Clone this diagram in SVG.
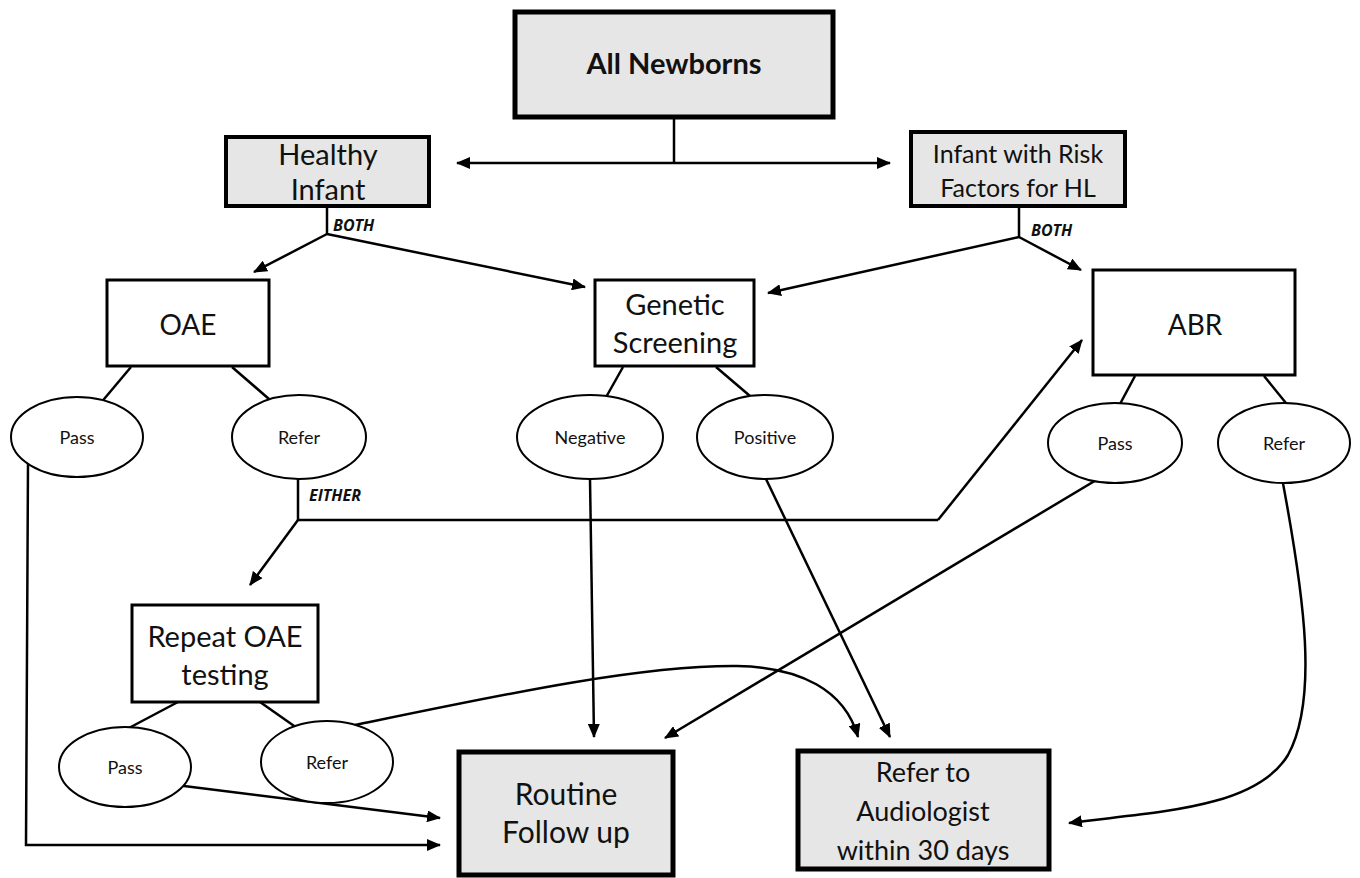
<svg xmlns="http://www.w3.org/2000/svg" width="1360" height="878" viewBox="0 0 1360 878">
<defs>
<marker id="ah" markerUnits="userSpaceOnUse" markerWidth="14" markerHeight="12" refX="13" refY="6" orient="auto">
<path d="M0,0 L14,6 L0,12 z" fill="#000"/>
</marker>
<style>
.t{font-family:Lato,"Open Sans","Liberation Sans",sans-serif;fill:#111;text-anchor:middle}
.big{fill:#e6e6e6;stroke:#000;stroke-width:5}
.mid{fill:#e6e6e6;stroke:#000;stroke-width:4}
.box{fill:#fff;stroke:#000;stroke-width:3}
.ell{fill:#fff;stroke:#000;stroke-width:2}
.c{fill:none;stroke:#000;stroke-width:2.5}
.a{fill:none;stroke:#000;stroke-width:2.5;marker-end:url(#ah)}
.lbl{font-family:"Open Sans","Liberation Sans",sans-serif;font-weight:bold;font-style:italic;font-size:16px;fill:#111}
</style>
</defs>
<rect width="1360" height="878" fill="#fff"/>
<g id="connectors">
<path class="c" d="M674,118 V163"/>
<path class="a" d="M674,163 H890"/>
<path class="a" d="M674,163 H457"/>
<path class="c" d="M327,207 V234"/>
<path class="a" d="M327,234 L254,272"/>
<path class="a" d="M327,234 L585,287"/>
<path class="c" d="M1019,207 V237"/>
<path class="a" d="M1019,237 L768,293"/>
<path class="a" d="M1019,237 L1081,270"/>
<path class="c" d="M131,367 L94,411"/>
<path class="c" d="M232,367 L269,399"/>
<path class="c" d="M623,367 L605,399"/>
<path class="c" d="M716,367 L750,396"/>
<path class="c" d="M1135,376 L1120,404"/>
<path class="c" d="M1264,376 L1290,408"/>
<path class="c" d="M178,702 L127,729"/>
<path class="c" d="M260,702 L297,728"/>
<path class="c" d="M298,479 V520 H938"/>
<path class="a" d="M938,520 L1082,340"/>
<path class="a" d="M298,520 L250,585"/>
<path class="a" d="M28,463 L26,845 H440"/>
<path class="a" d="M176,785 L440,818"/>
<path class="a" d="M590,479 L594,737"/>
<path class="a" d="M766,479 L890,737"/>
<path class="a" d="M1113,470 L665,738"/>
<path class="a" d="M355,725 C500,695 640,665 737,666 C800,667 845,690 858,737"/>
<path class="a" d="M1282,478 C1305,600 1318,700 1288,755 C1255,810 1150,812 1069,823"/>
<text class="lbl" x="333" y="231">BOTH</text>
<text class="lbl" x="1031" y="236">BOTH</text>
<text class="lbl" x="309" y="501">EITHER</text>
</g>
<g id="all-newborns">
<rect class="big" x="515" y="12" width="318" height="105"/>
<text class="t" x="674" y="74" font-size="29" font-weight="bold">All Newborns</text>
</g>
<g id="healthy-infant">
<rect class="mid" x="226" y="137" width="203" height="69"/>
<text class="t" x="328" y="165" font-size="29">Healthy</text>
<text class="t" x="328" y="200" font-size="29">Infant</text>
</g>
<g id="risk-infant">
<rect class="mid" x="911" y="132" width="214" height="74"/>
<text class="t" x="1018" y="163" font-size="25">Infant with Risk</text>
<text class="t" x="1018" y="197" font-size="25">Factors for HL</text>
</g>
<g id="oae">
<rect class="box" x="107" y="280" width="162" height="86"/>
<text class="t" x="188" y="335" font-size="28">OAE</text>
</g>
<g id="genetic">
<rect class="box" x="595" y="280" width="159" height="86"/>
<text class="t" x="675" y="315" font-size="29">Genetic</text>
<text class="t" x="675" y="353" font-size="29">Screening</text>
</g>
<g id="abr">
<rect class="box" x="1093" y="270" width="202" height="105"/>
<text class="t" x="1195" y="335" font-size="28">ABR</text>
</g>
<g id="oae-pass">
<ellipse class="ell" cx="77" cy="437" rx="66" ry="40"/>
<text class="t" x="77" y="444" font-size="18">Pass</text>
</g>
<g id="oae-refer">
<ellipse class="ell" cx="299" cy="437" rx="67" ry="42"/>
<text class="t" x="299" y="444" font-size="18">Refer</text>
</g>
<g id="negative">
<ellipse class="ell" cx="590" cy="437" rx="73" ry="42"/>
<text class="t" x="590" y="444" font-size="18">Negative</text>
</g>
<g id="positive">
<ellipse class="ell" cx="765" cy="437" rx="68" ry="42"/>
<text class="t" x="765" y="444" font-size="18">Positive</text>
</g>
<g id="abr-pass">
<ellipse class="ell" cx="1115" cy="443" rx="67" ry="40"/>
<text class="t" x="1115" y="450" font-size="18">Pass</text>
</g>
<g id="abr-refer">
<ellipse class="ell" cx="1284" cy="443" rx="66" ry="40"/>
<text class="t" x="1284" y="450" font-size="18">Refer</text>
</g>
<g id="repeat-oae">
<rect class="box" x="132" y="605" width="186" height="97"/>
<text class="t" x="225" y="647" font-size="29">Repeat OAE</text>
<text class="t" x="225" y="685" font-size="29">testing</text>
</g>
<g id="repeat-pass">
<ellipse class="ell" cx="125" cy="767" rx="66" ry="40"/>
<text class="t" x="125" y="774" font-size="18">Pass</text>
</g>
<g id="repeat-refer">
<ellipse class="ell" cx="327" cy="762" rx="66" ry="41"/>
<text class="t" x="327" y="769" font-size="18">Refer</text>
</g>
<g id="routine">
<rect class="big" x="459" y="752" width="214" height="123"/>
<text class="t" x="566" y="805" font-size="30">Routine</text>
<text class="t" x="566" y="843" font-size="30">Follow up</text>
</g>
<g id="refer-audiologist">
<rect class="big" x="798" y="751" width="251" height="118"/>
<text class="t" x="923" y="782" font-size="27">Refer to</text>
<text class="t" x="923" y="821" font-size="27">Audiologist</text>
<text class="t" x="923" y="860" font-size="27">within 30 days</text>
</g>
</svg>
